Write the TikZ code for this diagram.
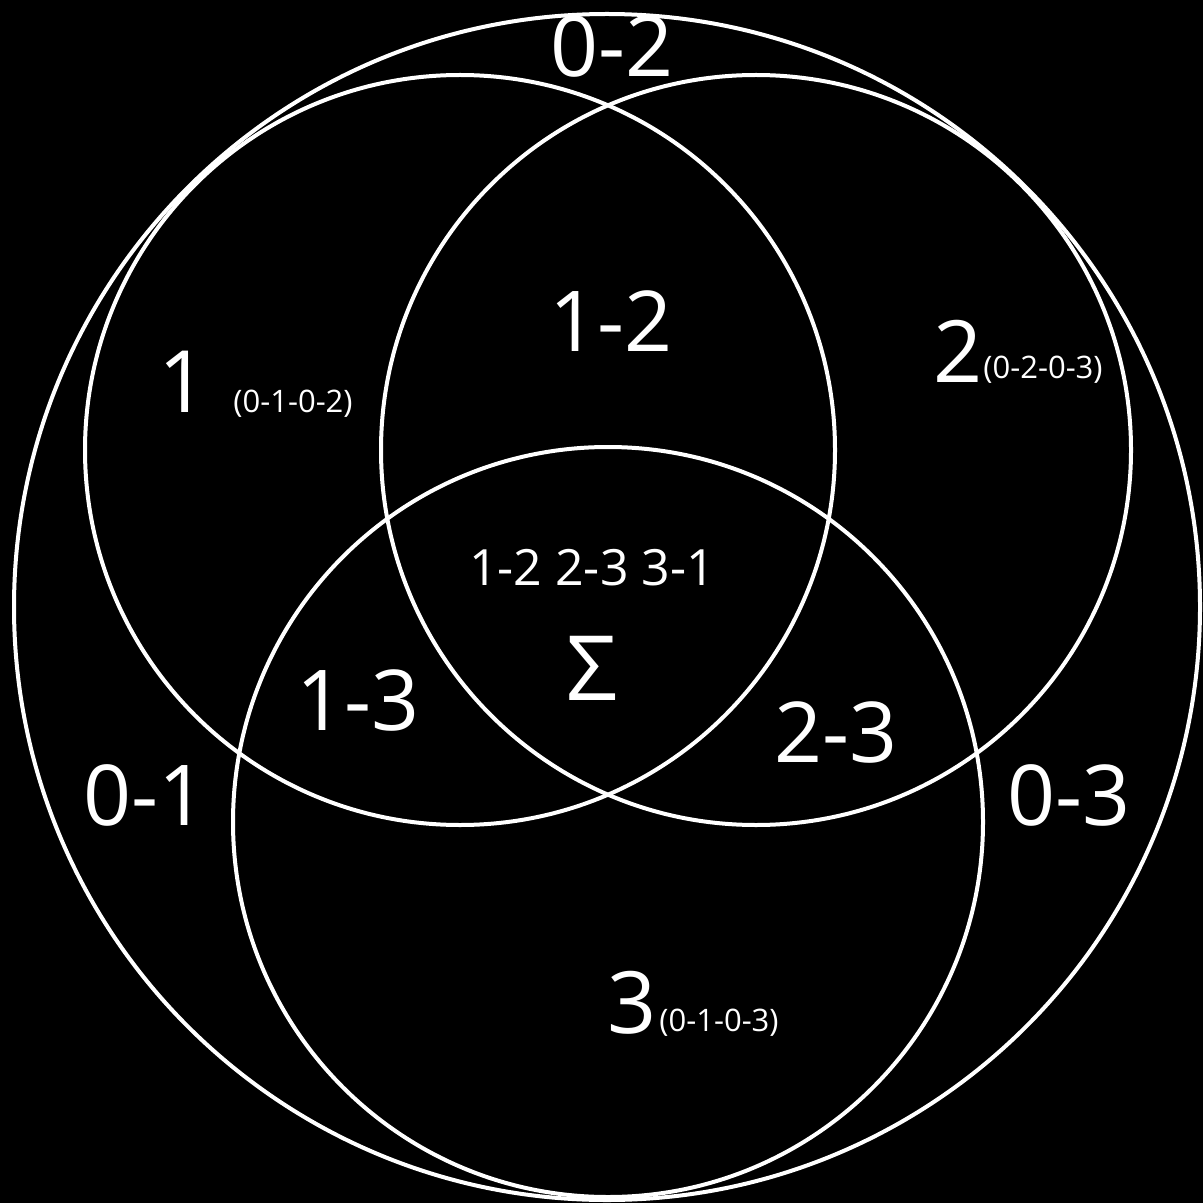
\documentclass[tikz,border=0pt]{standalone}
\usepackage{fontspec}
\setmainfont{Open Sans}
\begin{document}
\begin{tikzpicture}[x=0.5pt,y=-0.5pt,
  ring/.style={draw=white,line width=2pt},
  lbl/.style={text=white,inner sep=0pt,anchor=base,font=\fontsize{42}{42}\selectfont},
  one/.style={text=white,inner sep=0pt,anchor=base,font=\fontsize{43}{43}\selectfont},
  sub/.style={text=white,inner sep=0pt,anchor=base,font=\fontsize{15.5}{15.5}\selectfont},
  mid/.style={text=white,inner sep=0pt,anchor=base,font=\fontsize{25}{25}\selectfont},
  sig/.style={text=white,inner sep=0pt,anchor=base,font=\fontsize{45}{45}\selectfont}]
\fill[black] (0,0) rectangle (1203,1203);
\useasboundingbox (0,0) rectangle (1203,1203);
% circles
\coordinate (C0) at (607,607);
\coordinate (C1) at (460,450);
\coordinate (C2) at (756,450);
\coordinate (C3) at (608,822);
\draw[ring] (C0) circle[radius=593];
\draw[ring] (C1) circle[radius=375];
\draw[ring] (C2) circle[radius=375];
\draw[ring] (C3) circle[radius=375];
% labels
\node[lbl] (l02) at (612,77) {0-2};
\node[lbl] (l12) at (611,351) {1-2};
\node[lbl] (l13) at (358,730) {1-3};
\node[lbl] (l23) at (836,762) {2-3};
\node[lbl] (l01) at (145,825) {0-1};
\node[lbl] (l03) at (1069,825) {0-3};
\node[one] (l1) at (183,412) {1};
\node[sub] (s1) at (293,412) {(0-1-0-2)};
\node[one] (l2) at (958,382) {2};
\node[sub] (s2) at (1043,379) {(0-2-0-3)};
\node[one] (l3) at (632,1033) {3};
\node[sub] (s3) at (719,1031) {(0-1-0-3)};
\node[mid] (lm) at (592,585) {1-2 2-3 3-1};
\node[sig] (ls) at (592,700) {Σ};
\end{tikzpicture}
\end{document}
